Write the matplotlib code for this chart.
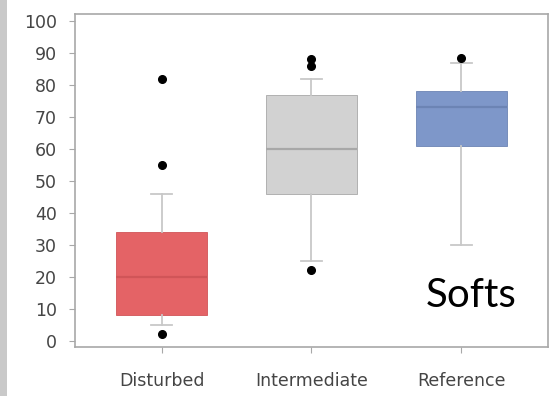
import matplotlib

matplotlib.use("Agg")
import matplotlib.pyplot as plt
from matplotlib.patches import Rectangle

# box statistics per site class
groups = ["Disturbed", "Intermediate", "Reference"]
q1 = [8, 46, 61]
median = [20, 60, 73]
q3 = [34, 77, 78]
whislo = [5, 25, 30]
whishi = [46, 82, 87]
fliers = [[82, 55, 2], [86, 88, 22], [88.5]]

box_colors = ["#E46366", "#D2D2D2", "#7E97C9"]
median_colors = ["#D05558", "#A8A8A8", "#6C84B4"]

plt.rcParams["font.family"] = ["DejaVu Sans"]

fig = plt.figure(figsize=(5.53, 3.96), dpi=100)
ax = fig.add_axes([75 / 553, 1 - 347 / 396, (548 - 75) / 553, (347 - 14) / 396])

# grey strip along the left edge of the canvas
fig.patches.append(Rectangle((0, 0), 7 / 553, 1, transform=fig.transFigure,
                             facecolor="#C9C9C9", edgecolor="none"))

stats = []
for i, g in enumerate(groups):
    stats.append(dict(label=g, q1=q1[i], med=median[i], q3=q3[i],
                      whislo=whislo[i], whishi=whishi[i], fliers=fliers[i]))

positions = [1, 2, 3]
bp = ax.bxp(stats, positions=positions, widths=0.61, capwidths=0.14,
            patch_artist=True, showfliers=True,
            whiskerprops=dict(color="#C8C8C8", lw=1.3),
            capprops=dict(color="#C8C8C8", lw=1.3),
            flierprops=dict(marker="o", markerfacecolor="black",
                            markeredgecolor="black", markersize=5.5))
for i, box in enumerate(bp["boxes"]):
    box.set_facecolor(box_colors[i])
    box.set_edgecolor(median_colors[i])
    box.set_linewidth(0.6)
for i, m in enumerate(bp["medians"]):
    m.set_color(median_colors[i])
    m.set_linewidth(1.6)

ax.set_xlim(0.42, 3.58)
ax.set_ylim(-2.0, 102.2)
ax.set_yticks(range(0, 101, 10))
ax.set_xticks(positions)
ax.set_xticklabels(groups)

for s in ax.spines.values():
    s.set_color("#A8A8A8")
    s.set_linewidth(1.2)
ax.tick_params(axis="both", colors="#A8A8A8", labelcolor="#454545",
               labelsize=12.5, length=4)
ax.tick_params(axis="y", pad=9)
ax.tick_params(axis="x", pad=14)

ax.text(0.934, 0.12, "Softs", family=["Lato", "DejaVu Sans"], fontsize=29,
        color="black", ha="right", va="baseline", transform=ax.transAxes)

fig.savefig("out.png", dpi=100)
